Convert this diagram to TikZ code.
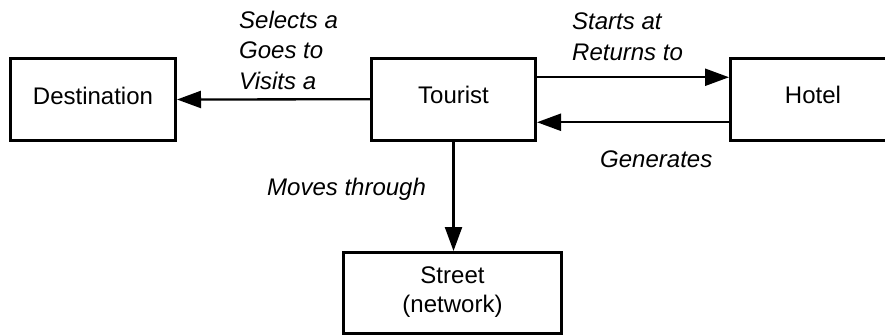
\documentclass[tikz,border=0pt]{standalone}
\usepackage{fontspec}
\setmainfont{Liberation Sans}
\usetikzlibrary{arrows.meta}
\begin{document}
\begin{tikzpicture}[x=1pt,y=-1pt,
  box/.style={draw=black, line width=3pt, minimum width=#1, minimum height=82pt,
    inner sep=0pt, align=center, font=\fontsize{24}{29.5}\selectfont,
    text height=17pt, text depth=8pt},
  rel/.style={line width=2.3pt, -{Triangle[length=24pt,width=17pt]}},
  lab/.style={anchor=base west, inner sep=0pt, align=left,
    font=\fontsize{24}{30.5}\selectfont\itshape}]
\useasboundingbox (0,0) rectangle (885,335);
\fill[white] (0,0) rectangle (885,335);
\begin{scope}
  \clip (0,0) rectangle (885,335);
  \node[box=165pt] (dest) at (93,99.5) {Destination};
  \node[box=164pt] (tour) at (453.5,99.25) {Tourist};
  \node[box=165pt] (hotel) at (813,99.25) {Hotel};
  \node[box=218pt, minimum height=81pt, text height=47pt, text depth=8pt] (street) at (452.5,293) {Street\\(network)};
\end{scope}
\draw[rel] (tour.west) -- (dest.east);
\draw[rel] ([yshift=22pt]tour.east) -- ([yshift=22pt]hotel.west);
\draw[rel] ([yshift=-23pt]hotel.west) -- ([yshift=-23pt]tour.east);
\draw[rel] (tour.south) -- (tour.south |- street.north);
\node[lab] (l1) at (239,89) {Selects a\\Goes to\\Visits a};
\node[lab] (l2) at (572,60) {Starts at\\Returns to};
\node[lab] (l3) at (600,167) {Generates};
\node[lab] (l4) at (267,195) {Moves through};
\end{tikzpicture}
\end{document}
